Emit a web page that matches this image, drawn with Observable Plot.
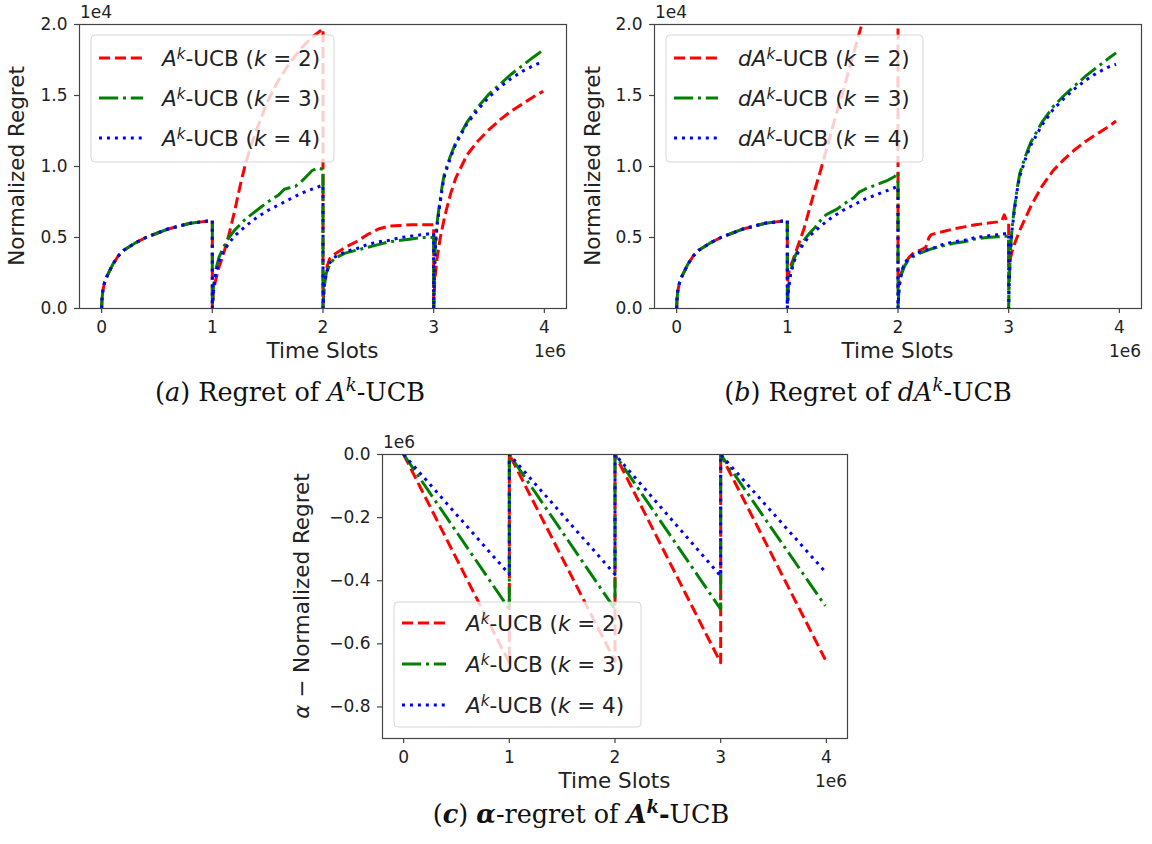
<!DOCTYPE html>
<html><head><meta charset="utf-8">
<script src="https://cdn.jsdelivr.net/npm/d3@7"></script>
<script src="https://cdn.jsdelivr.net/npm/@observablehq/plot@0.6"></script>
<style>
html,body{margin:0;padding:0;background:#fff;}
#fig{position:relative;width:1152px;height:844px;overflow:hidden;background:#fff;}
</style></head><body><div id="fig"></div>
<script>
// ---------------- data (x in 1e6 time slots, y in 1e4 / 1e6) ----------------
const xTicks = [0, 1, 2, 3, 4];
const yTicksAB = [0, 0.5, 1, 1.5, 2];
const yTicksC = [-0.8, -0.6, -0.4, -0.2, 0];
const kValues = [2, 3, 4];

// first period (identical for every series in panels a and b)
const seg01 = [[0,0],[0.003,0.06],[0.01,0.12],[0.025,0.18],[0.05,0.23],[0.1,0.31],[0.15,0.37],[0.2,0.41],[0.3,0.46],[0.4,0.5],[0.5,0.53],[0.6,0.56],[0.7,0.58],[0.8,0.6],[0.9,0.61],[1.0,0.62]];

const A_k2 = [...seg01,[1,0],[1.01,0.12],[1.03,0.2],[1.06,0.29],[1.1,0.38],[1.15,0.52],[1.2,0.68],[1.25,0.86],[1.3,1.02],[1.35,1.15],[1.4,1.26],[1.5,1.46],[1.6,1.61],[1.7,1.73],[1.8,1.83],[1.9,1.91],[2.0,1.97],[2,0],[2.01,0.18],[2.03,0.28],[2.06,0.35],[2.1,0.38],[2.2,0.43],[2.3,0.47],[2.4,0.52],[2.5,0.56],[2.6,0.58],[2.7,0.585],[2.8,0.59],[2.9,0.59],[3.0,0.59],[3,0],[3.01,0.2],[3.03,0.35],[3.06,0.5],[3.1,0.65],[3.15,0.8],[3.2,0.92],[3.3,1.08],[3.4,1.18],[3.5,1.26],[3.6,1.33],[3.7,1.39],[3.8,1.44],[3.9,1.49],[3.99,1.53]];
const A_k3 = [...seg01,[1,0],[1.01,0.15],[1.03,0.27],[1.06,0.36],[1.1,0.43],[1.15,0.5],[1.2,0.55],[1.3,0.63],[1.4,0.69],[1.5,0.75],[1.6,0.8],[1.65,0.84],[1.7,0.85],[1.75,0.86],[1.8,0.89],[1.85,0.93],[1.9,0.97],[1.95,0.99],[2.0,0.98],[2,0],[2.01,0.15],[2.03,0.25],[2.06,0.31],[2.1,0.35],[2.2,0.39],[2.3,0.41],[2.4,0.43],[2.5,0.45],[2.6,0.47],[2.7,0.48],[2.8,0.49],[2.9,0.5],[3.0,0.5],[3,0],[3.005,0.2],[3.015,0.45],[3.03,0.6],[3.05,0.72],[3.08,0.88],[3.1,0.96],[3.15,1.07],[3.2,1.17],[3.3,1.31],[3.4,1.42],[3.5,1.51],[3.6,1.58],[3.7,1.65],[3.8,1.71],[3.9,1.77],[3.99,1.82]];
const A_k4 = [...seg01,[1,0],[1.01,0.13],[1.03,0.24],[1.06,0.33],[1.1,0.4],[1.15,0.46],[1.2,0.51],[1.3,0.58],[1.4,0.64],[1.5,0.69],[1.6,0.73],[1.7,0.77],[1.8,0.81],[1.9,0.84],[2.0,0.87],[2,0],[2.01,0.15],[2.03,0.25],[2.06,0.32],[2.1,0.36],[2.2,0.4],[2.3,0.42],[2.4,0.45],[2.5,0.47],[2.6,0.48],[2.7,0.5],[2.8,0.51],[2.9,0.52],[3.0,0.53],[3,0],[3.005,0.2],[3.015,0.42],[3.03,0.58],[3.05,0.7],[3.08,0.86],[3.1,0.94],[3.15,1.06],[3.2,1.16],[3.3,1.3],[3.4,1.4],[3.5,1.49],[3.6,1.56],[3.7,1.62],[3.8,1.67],[3.9,1.71],[3.99,1.74]];

const B_k2 = [...seg01,[1,0.18],[1.02,0.28],[1.05,0.34],[1.1,0.45],[1.15,0.56],[1.2,0.7],[1.25,0.84],[1.3,0.97],[1.35,1.11],[1.4,1.25],[1.45,1.39],[1.5,1.52],[1.55,1.66],[1.6,1.8],[1.65,1.94],[1.7,2.07],[1.8,2.3],[1.9,2.5],[2.0,2.7],[2,0.15],[2.02,0.22],[2.05,0.3],[2.1,0.36],[2.15,0.4],[2.2,0.41],[2.25,0.43],[2.28,0.5],[2.3,0.52],[2.4,0.54],[2.5,0.56],[2.6,0.575],[2.7,0.59],[2.8,0.6],[2.9,0.61],[2.94,0.62],[2.96,0.66],[2.98,0.62],[3.0,0.6],[3,0.3],[3.03,0.4],[3.06,0.47],[3.1,0.55],[3.2,0.72],[3.3,0.86],[3.4,0.97],[3.5,1.05],[3.6,1.12],[3.7,1.18],[3.8,1.23],[3.9,1.28],[3.97,1.32]];
const B_k3 = [...seg01,[1,0],[1.01,0.15],[1.03,0.26],[1.06,0.35],[1.1,0.42],[1.15,0.48],[1.2,0.53],[1.25,0.57],[1.3,0.62],[1.35,0.66],[1.4,0.68],[1.45,0.7],[1.5,0.73],[1.6,0.78],[1.65,0.82],[1.7,0.84],[1.8,0.87],[1.9,0.9],[1.97,0.93],[2.0,0.96],[2,0],[2.01,0.15],[2.03,0.24],[2.06,0.3],[2.1,0.35],[2.2,0.39],[2.3,0.42],[2.4,0.44],[2.5,0.46],[2.6,0.47],[2.7,0.49],[2.8,0.5],[2.9,0.505],[3.0,0.51],[3,0],[3.005,0.18],[3.015,0.4],[3.03,0.56],[3.05,0.7],[3.08,0.86],[3.1,0.95],[3.15,1.07],[3.2,1.17],[3.3,1.31],[3.4,1.42],[3.5,1.5],[3.6,1.57],[3.7,1.64],[3.8,1.7],[3.9,1.76],[3.97,1.8]];
const B_k4 = [...seg01,[1,0],[1.01,0.13],[1.03,0.24],[1.06,0.33],[1.1,0.4],[1.15,0.46],[1.2,0.51],[1.3,0.58],[1.4,0.64],[1.5,0.69],[1.6,0.73],[1.7,0.77],[1.8,0.8],[1.9,0.83],[2.0,0.86],[2,0],[2.01,0.15],[2.03,0.25],[2.06,0.32],[2.1,0.36],[2.2,0.4],[2.3,0.42],[2.4,0.45],[2.5,0.47],[2.6,0.48],[2.7,0.5],[2.8,0.51],[2.9,0.52],[3.0,0.53],[3,0],[3.005,0.18],[3.015,0.38],[3.03,0.55],[3.05,0.68],[3.08,0.85],[3.1,0.93],[3.15,1.05],[3.2,1.15],[3.3,1.29],[3.4,1.4],[3.5,1.48],[3.6,1.55],[3.7,1.61],[3.8,1.66],[3.9,1.7],[3.97,1.72]];

const C_k2 = [[0,0],[1,-0.66],[1,0],[2,-0.655],[2,0],[3,-0.66],[3,0],[3.99,-0.65]];
const C_k3 = [[0,0],[1,-0.49],[1,0],[2,-0.49],[2,0],[3,-0.49],[3,0],[3.99,-0.48]];
const C_k4 = [[0,0],[1,-0.38],[1,0],[2,-0.38],[2,0],[3,-0.385],[3,0],[3.99,-0.372]];

// ---------------- styling ----------------
const lineStyles = [
  {stroke: "#ff0000", dash: "11.1,4.8"},
  {stroke: "#008000", dash: "19.2,4.8,3,4.8"},
  {stroke: "#0000ff", dash: "3,4.95"}
];
const FONT = "'DejaVu Sans', sans-serif";
const TICK_FS = 17, LABEL_FS = 21.5, LEGEND_FS = 21.5;
const fmtY = d => (d < 0 ? "\u2212" : "") + Math.abs(d).toFixed(1);
const fig = d3.select("#fig");

function makePanel(cfg) {
  const {series, yDomain, yTicks, left, top, width, height, m} = cfg;
  const marks = series.map((s, i) => Plot.line(s, {
    x: d => d[0], y: d => d[1],
    stroke: lineStyles[i].stroke, strokeWidth: 3,
    strokeDasharray: lineStyles[i].dash,
    strokeLinecap: "butt", strokeLinejoin: "round", clip: true
  }));
  const svgEl = Plot.plot({
    width, height,
    marginLeft: m.l, marginRight: m.r, marginTop: m.t, marginBottom: m.b,
    style: {fontFamily: FONT, fontSize: TICK_FS + "px", color: "#222", background: "none", overflow: "visible"},
    x: {domain: [-0.2, 4.2]},
    y: {domain: yDomain},
    marks: [
      ...marks,
      Plot.frame({stroke: "#444", strokeWidth: 1.2}),
      Plot.axisX({ticks: xTicks, tickFormat: d3.format("d"), tickSize: 5, tickPadding: 7, label: null, fontSize: TICK_FS, fill: "#222", stroke: "#444", strokeWidth: 1.2}),
      Plot.axisY({ticks: yTicks, tickFormat: fmtY, tickSize: 5, tickPadding: 7, label: null, fontSize: TICK_FS, fill: "#222", stroke: "#444", strokeWidth: 1.2})
    ]
  });
  svgEl.style.position = "absolute";
  svgEl.style.left = left + "px";
  svgEl.style.top = top + "px";
  fig.node().appendChild(svgEl);
  const svg = d3.select(svgEl);
  const fl = m.l, fr = width - m.r, ft = m.t, fb = height - m.b;

  // offset texts
  svg.append("text").attr("x", fl + 1).attr("y", ft - 6).attr("text-anchor", "start").attr("font-family", FONT).attr("font-size", TICK_FS).attr("fill", "#222").text(cfg.yOffset);
  svg.append("text").attr("x", fr).attr("y", fb + 49).attr("text-anchor", "end").attr("font-family", FONT).attr("font-size", TICK_FS).attr("fill", "#222").text("1e6");
  // x label
  svg.append("text").attr("x", (fl + fr) / 2).attr("y", fb + 50).attr("text-anchor", "middle").attr("font-family", FONT).attr("font-size", LABEL_FS).attr("fill", "#222").text("Time Slots");
  // y label
  const yl = svg.append("text")
    .attr("transform", `translate(${fl + cfg.yLabelDx},${(ft + fb) / 2}) rotate(-90)`)
    .attr("dy", "0.3em").attr("text-anchor", "middle").attr("font-family", FONT).attr("font-size", LABEL_FS).attr("fill", "#222");
  if (cfg.alphaLabel) {
    yl.append("tspan").attr("font-style", "italic").text("α");
    yl.append("tspan").text(" − Normalized Regret");
  } else {
    yl.text("Normalized Regret");
  }

  // legend
  const L = cfg.legend;
  const g = svg.append("g").attr("text-anchor", "start");
  g.append("rect").attr("x", L.x).attr("y", L.y).attr("width", L.w).attr("height", L.h).attr("rx", 4)
    .attr("fill", "#fff").attr("fill-opacity", 0.8).attr("stroke", "#ccc").attr("stroke-opacity", 0.8).attr("stroke-width", 1);
  kValues.forEach((k, i) => {
    const cy = L.rows[i];
    g.append("line").attr("x1", L.hx0).attr("x2", L.hx1).attr("y1", cy).attr("y2", cy)
      .attr("stroke", lineStyles[i].stroke).attr("stroke-width", 3)
      .attr("stroke-dasharray", lineStyles[i].dash).attr("stroke-linecap", "butt");
    const t = g.append("text").attr("x", L.tx).attr("y", cy + 8).attr("text-anchor", "start")
      .attr("font-family", FONT).attr("font-size", LEGEND_FS).attr("fill", "#222");
    if (cfg.prefixD) t.append("tspan").attr("font-style", "italic").text("d");
    t.append("tspan").attr("font-style", "italic").text("A");
    t.append("tspan").attr("font-style", "italic").attr("font-size", 15).attr("dy", -7.5).text("k");
    t.append("tspan").attr("dy", 7.5).text("-UCB (");
    t.append("tspan").attr("font-style", "italic").text("k");
    t.append("tspan").text(" = " + k + ")");
  });
  return svgEl;
}

// panel (a)
makePanel({
  series: [A_k2, A_k3, A_k4], yDomain: [0, 2], yTicks: yTicksAB,
  left: 0, top: 0, width: 576, height: 366, m: {l: 79, r: 10, t: 24, b: 58},
  yOffset: "1e4", yLabelDx: -61.5,
  legend: {x: 91, y: 35, w: 243, h: 127, rows: [58, 98, 138], hx0: 99, hx1: 143, tx: 162}
});
// panel (b)
makePanel({
  series: [B_k2, B_k3, B_k4], yDomain: [0, 2], yTicks: yTicksAB,
  left: 576, top: 0, width: 576, height: 366, m: {l: 78, r: 11, t: 24, b: 58},
  yOffset: "1e4", yLabelDx: -60, prefixD: true,
  legend: {x: 90, y: 35, w: 257, h: 127, rows: [58, 98, 138], hx0: 98, hx1: 142, tx: 162}
});
// panel (c)
makePanel({
  series: [C_k2, C_k3, C_k4], yDomain: [-0.9, 0], yTicks: yTicksC,
  left: 270, top: 420, width: 600, height: 380, m: {l: 112, r: 23, t: 34, b: 62},
  yOffset: "1e6", yLabelDx: -79, alphaLabel: true,
  legend: {x: 124, y: 182, w: 247, h: 125, rows: [203, 244, 285], hx0: 132, hx1: 176, tx: 196}
});

// ---------------- captions ----------------
const cap = fig.append("svg").attr("width", 1152).attr("height", 844)
  .style("position", "absolute").style("left", "0px").style("top", "0px").style("pointer-events", "none");
const SERIF = "'DejaVu Serif', serif";
function caption(cx, cy, parts) {
  const t = cap.append("text").attr("x", cx).attr("y", cy).attr("text-anchor", "middle")
    .attr("font-family", SERIF).attr("font-size", 25.5).attr("fill", "#111");
  parts.forEach(p => {
    const s = t.append("tspan").text(p.t);
    if (p.i) s.attr("font-style", "italic");
    if (p.b) s.attr("font-weight", "bold");
    if (p.sup) s.attr("font-size", 18).attr("dy", -10);
    if (p.down) s.attr("dy", 10);
  });
}
caption(290, 401, [{t: "("}, {t: "a", i: 1}, {t: ") Regret of "}, {t: "A", i: 1}, {t: "k", i: 1, sup: 1}, {t: "-UCB", down: 1}]);
caption(868, 401, [{t: "("}, {t: "b", i: 1}, {t: ") Regret of "}, {t: "dA", i: 1}, {t: "k", i: 1, sup: 1}, {t: "-UCB", down: 1}]);
caption(581, 823, [{t: "("}, {t: "c", i: 1, b: 1}, {t: ") "}, {t: "α", i: 1, b: 1}, {t: "-regret of "}, {t: "A", i: 1, b: 1}, {t: "k", i: 1, b: 1, sup: 1}, {t: "-", b: 1, down: 1}, {t: "UCB"}]);
</script></body></html>
